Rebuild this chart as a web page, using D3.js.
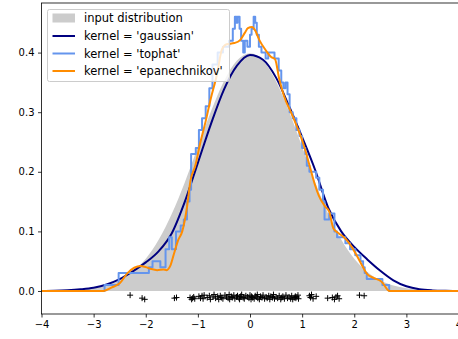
<!DOCTYPE html>
<html><head><meta charset="utf-8">
<script src="https://cdn.jsdelivr.net/npm/d3@7"></script>
<style>body{margin:0;background:#fff}svg{display:block;font-family:"DejaVu Sans",sans-serif}</style>
</head><body><svg id="c" width="458" height="339"></svg>
<script>
// ---------- data ----------
const gridX = [-4,-3.75,-3.5,-3.25,-3,-2.75,-2.5,-2.25,-2,-1.75,-1.5,-1.25,-1,-0.75,-0.5,-0.25,0,
               0.25,0.5,0.75,1,1.25,1.5,1.75,2,2.25,2.5,2.75,3,3.25,3.5,3.75,4];
const trueDensity = [0.0001,0.0004,0.0009,0.0020,0.0044,0.0091,0.0175,0.0317,0.0540,0.0863,0.1295,0.1826,0.2420,0.3011,0.3521,0.3867,0.3989,
                     0.3867,0.3521,0.3011,0.2420,0.1826,0.1295,0.0863,0.0540,0.0317,0.0175,0.0091,0.0044,0.0020,0.0009,0.0004,0.0001];
const gaussianKDE = [0.0001,0.0004,0.0012,0.0028,0.0055,0.011,0.020,0.033,0.048,0.067,0.097,0.150,0.215,0.280,0.338,0.378,0.396,
                     0.388,0.358,0.310,0.258,0.203,0.140,0.100,0.074,0.053,0.034,0.018,0.008,0.003,0.001,0.0003,0.0001];
const epanX = [-4,-2.81,-2.65,-2.5,-2.35,-2.22,-2.1,-2.0,-1.9,-1.78,-1.66,-1.6,-1.53,-1.46,-1.38,-1.3,-1.21,-1.14,-1.05,-0.95,-0.85,-0.76,-0.63,-0.54,-0.45,-0.3,-0.19,-0.1,-0.04,0.04,0.1,0.18,0.31,0.4,0.48,0.56,0.69,0.77,0.9,1.03,1.16,1.24,1.32,1.44,1.52,1.6,1.7,1.79,1.88,2.04,2.18,2.24,2.37,2.52,2.68,4];
const epanY = [0,0,0.006,0.013,0.03,0.039,0.042,0.040,0.037,0.035,0.036,0.035,0.042,0.062,0.085,0.10,0.14,0.186,0.21,0.25,0.285,0.32,0.365,0.405,0.414,0.416,0.421,0.433,0.441,0.443,0.437,0.421,0.403,0.393,0.389,0.356,0.318,0.303,0.276,0.245,0.205,0.18,0.16,0.142,0.133,0.105,0.097,0.091,0.083,0.061,0.038,0.029,0.022,0.016,0,0];
const tophatX = [-4,-2.79,-2.52,-1.94,-1.87,-1.72,-1.62,-1.55,-1.5,-1.42,-1.33,-1.27,-1.21,-1.16,-1.13,-1.04,-0.98,-0.92,-0.85,-0.78,-0.72,-0.62,-0.52,-0.4,-0.33,-0.29,-0.26,-0.24,-0.2,-0.17,-0.13,-0.1,-0.05,0.0,0.03,0.07,0.1,0.13,0.17,0.22,0.3,0.35,0.47,0.55,0.6,0.64,0.68,0.72,0.76,0.82,0.89,0.95,1.0,1.06,1.09,1.14,1.27,1.33,1.4,1.43,1.52,1.62,1.67,1.83,1.92,2.02,2.12,2.17,2.2,2.24,2.54,2.67,4];
const tophatY = [0,0.01,0.03,0.04,0.05,0.04,0.07,0.09,0.07,0.10,0.11,0.12,0.15,0.17,0.23,0.24,0.27,0.29,0.31,0.34,0.38,0.40,0.41,0.42,0.44,0.46,0.45,0.46,0.44,0.42,0.40,0.42,0.41,0.43,0.44,0.46,0.45,0.43,0.41,0.40,0.39,0.40,0.39,0.37,0.35,0.34,0.35,0.33,0.30,0.29,0.27,0.26,0.24,0.23,0.21,0.20,0.19,0.17,0.15,0.12,0.13,0.10,0.09,0.08,0.07,0.06,0.05,0.04,0.03,0.02,0.01,0,0];
const sampleX = [-2.30,-2.07,-2.02,-1.45,-1.41,-1.15,-1.12,-1.10,-1.08,-1.06,
  -0.98,-0.95,-0.92,-0.90,-0.88,-0.82,-0.78,-0.76,-0.71,-0.69,
  -0.66,-0.62,-0.60,-0.57,-0.55,-0.52,-0.48,-0.45,-0.42,-0.40,
  -0.39,-0.36,-0.34,-0.31,-0.29,-0.26,-0.24,-0.21,-0.20,-0.18,
  -0.16,-0.13,-0.11,-0.08,-0.05,-0.02,0.00,0.02,0.03,0.05,
  0.08,0.10,0.12,0.14,0.15,0.18,0.20,0.23,0.25,0.28,
  0.31,0.33,0.36,0.38,0.40,0.43,0.45,0.47,0.50,0.53,
  0.56,0.59,0.61,0.63,0.66,0.69,0.72,0.75,0.78,0.80,
  0.82,0.85,0.87,0.88,0.90,0.92,0.93,1.14,1.16,1.18,
  1.21,1.27,1.49,1.58,1.62,1.65,1.68,1.71,2.10,2.19];
const sampleY = [-0.007,-0.012,-0.014,-0.012,-0.011,-0.011,-0.014,-0.012,-0.010,-0.013,
  -0.009,-0.012,-0.008,-0.013,-0.007,-0.011,-0.008,-0.014,-0.010,-0.006,
  -0.012,-0.009,-0.014,-0.008,-0.011,-0.013,-0.007,-0.010,-0.012,-0.006,
  -0.014,-0.009,-0.011,-0.007,-0.013,-0.010,-0.008,-0.012,-0.014,-0.009,
  -0.006,-0.011,-0.013,-0.008,-0.010,-0.012,-0.007,-0.014,-0.009,-0.011,
  -0.013,-0.008,-0.010,-0.006,-0.012,-0.014,-0.009,-0.011,-0.007,-0.013,
  -0.010,-0.012,-0.008,-0.014,-0.009,-0.011,-0.006,-0.013,-0.010,-0.012,
  -0.008,-0.014,-0.011,-0.009,-0.013,-0.007,-0.012,-0.010,-0.013,-0.008,
  -0.014,-0.011,-0.009,-0.012,-0.010,-0.007,-0.013,-0.008,-0.011,-0.006,
  -0.013,-0.009,-0.012,-0.011,-0.014,-0.010,-0.008,-0.013,-0.007,-0.008];
const xTicks = [-4,-3,-2,-1,0,1,2,3,4];
const yTicks = [0.0,0.1,0.2,0.3,0.4];
const legendLabels = ["input distribution","kernel = 'gaussian'","kernel = 'tophat'","kernel = 'epanechnikov'"];
const colors = {fill:"#cccccc", gaussian:"#000080", tophat:"#6495ED", epan:"#FF8C00"};

// ---------- layout ----------
const L=41.5, R=458.5, T=3, B=314;
const svg = d3.select("#c");
const x = d3.scaleLinear().domain([-4,4]).range([L,R]);
const y = d3.scaleLinear().domain([-0.0386,0.4832]).range([B,T]);

svg.append("clipPath").attr("id","clip").append("rect")
  .attr("x",L).attr("y",T).attr("width",R-L).attr("height",B-T);
const plot = svg.append("g").attr("clip-path","url(#clip)");

// fill
const fillData = gridX.map((v,i)=>[v,trueDensity[i]]);
plot.append("path").datum(fillData)
  .attr("d", d3.area().x(d=>x(d[0])).y0(y(0)).y1(d=>y(d[1])).curve(d3.curveMonotoneX))
  .attr("fill",colors.fill);

plot.append("path").datum(gridX.map((v,i)=>[v,gaussianKDE[i]]))
  .attr("d", d3.line().x(d=>x(d[0])).y(d=>y(d[1])).curve(d3.curveMonotoneX)).attr("fill","none")
  .attr("stroke",colors.gaussian).attr("stroke-width",2).attr("stroke-linejoin","round");
plot.append("path").datum(tophatX.map((v,i)=>[v,tophatY[i]]))
  .attr("d", d3.line().x(d=>x(d[0])).y(d=>y(d[1])).curve(d3.curveStepAfter)).attr("fill","none")
  .attr("stroke",colors.tophat).attr("stroke-width",2).attr("stroke-linejoin","round");
plot.append("path").datum(epanX.map((v,i)=>[v,epanY[i]]))
  .attr("d", d3.line().x(d=>x(d[0])).y(d=>y(d[1])).curve(d3.curveMonotoneX)).attr("fill","none")
  .attr("stroke",colors.epan).attr("stroke-width",2).attr("stroke-linejoin","round");

// axes
const fmtX = d => (d<0?"\u2212":"")+Math.abs(d);
const xa = svg.append("g").attr("transform",`translate(0,${B})`)
  .call(d3.axisBottom(x).tickValues(xTicks).tickFormat(fmtX).tickSize(3.5).tickPadding(3.5));
const ya = svg.append("g").attr("transform",`translate(${L},0)`)
  .call(d3.axisLeft(y).tickValues(yTicks).tickFormat(d3.format(".1f")).tickSize(3.5).tickPadding(3.5));
[xa,ya].forEach(a=>{
  a.select(".domain").remove();
  a.selectAll("line").attr("stroke","#000").attr("stroke-width",0.8);
  a.selectAll("text").attr("font-family","DejaVu Sans").attr("font-size",10).attr("fill","#000");
});
// spines
const sp = svg.append("g").attr("stroke","#000").attr("stroke-width",0.8).attr("fill","none");
sp.append("rect").attr("x",L).attr("y",T).attr("width",R-L).attr("height",B-T);

// legend
const lg = svg.append("g");
lg.append("rect").attr("x",47.5).attr("y",9.5).attr("width",182).attr("height",72).attr("rx",2)
  .attr("fill","#fff").attr("fill-opacity",0.8).attr("stroke","#cccccc").attr("stroke-width",1);
const rows=[18,36,53.5,71];
lg.append("rect").attr("x",52.5).attr("y",13.5).attr("width",22.5).attr("height",9).attr("fill",colors.fill);
[colors.gaussian,colors.tophat,colors.epan].forEach((c,i)=>{
  lg.append("line").attr("x1",52.5).attr("x2",75).attr("y1",rows[i+1]).attr("y2",rows[i+1])
    .attr("stroke",c).attr("stroke-width",2);
});
legendLabels.forEach((t,i)=>{
  lg.append("text").attr("x",84).attr("y",rows[i]).attr("dy","0.36em")
    .attr("font-size",11.5).attr("fill","#000").text(t);
});

// sample points
const pts = svg.append("g").attr("stroke","#000").attr("stroke-width",1);
sampleX.forEach((v,i)=>{
  const cx=x(v), cy=y(sampleY[i]);
  pts.append("path").attr("d",`M${cx-3},${cy}H${cx+3}M${cx},${cy-3}V${cy+3}`);
});
</script></body></html>
